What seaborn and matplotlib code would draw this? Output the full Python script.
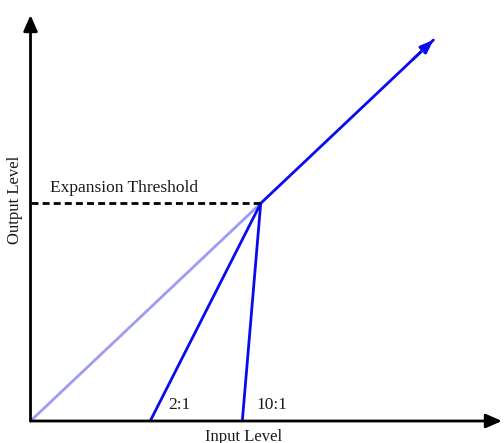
import matplotlib
matplotlib.use("Agg")
import matplotlib.pyplot as plt
import seaborn as sns

# ---- data (input / output level, arbitrary units, threshold = 100) ----
threshold_level = 100
unity_x = [0, 100]
unity_y = [0, 100]
above_x = [100, 175]
above_y = [100, 175]
ratio_labels = ["2:1", "10:1"]
ratio_start = [52, 92]   # input level where the expanded output reaches zero

sns.set_theme(style="white")
plt.rcParams['font.family'] = ['Liberation Serif', 'DejaVu Serif']

fig = plt.figure(figsize=(5.04, 4.43), dpi=100)
ax = fig.add_axes([30.5 / 504, 22 / 443, (502 - 30.5) / 504, (421 - 15) / 443])
ax.set_xlim(0, 204.8)
ax.set_ylim(0, 186.5)
for s in ax.spines.values():
    s.set_visible(False)
ax.set_xticks([])
ax.set_yticks([])
ax.patch.set_alpha(0)

blue = "#0a0aef"
light = "#9c9cf6"
txt = "#1a1a1a"

# 1:1 line below threshold
sns.lineplot(x=unity_x, y=unity_y, color=light, lw=2.0, ax=ax)
# 1:1 above threshold with arrow
sns.lineplot(x=above_x, y=above_y, color=blue, lw=2.0, ax=ax)
ax.annotate("", xy=(above_x[1], above_y[1]), xytext=(above_x[1] - 9, above_y[1] - 9),
            arrowprops=dict(arrowstyle="-|>,head_length=0.65,head_width=0.25",
                            color=blue, lw=2.0, shrinkA=0, shrinkB=0))

# expansion ratios
for lab, x0 in zip(ratio_labels, ratio_start):
    sns.lineplot(x=[x0, threshold_level], y=[0, threshold_level], color=blue, lw=2.0, ax=ax)
    ax.text(x0 + 12.8, 5.5, lab, ha="center", va="baseline", fontsize=12.5, color=txt)

# threshold dashed line
ax.plot([0, threshold_level], [threshold_level, threshold_level], color="black",
        lw=2.0, ls=(0, (2.5, 1.5)))
ax.text(8.5, 105, "Expansion Threshold", ha="left", va="baseline", fontsize=12.5, color=txt)

# axes with arrows
ax.annotate("", xy=(1, 0), xytext=(0, 0), xycoords="axes fraction",
            arrowprops=dict(arrowstyle="-|>,head_length=0.8,head_width=0.35",
                            color="black", lw=2.0, shrinkA=0, shrinkB=0))
ax.annotate("", xy=(0, 1), xytext=(0, 0), xycoords="axes fraction",
            arrowprops=dict(arrowstyle="-|>,head_length=0.8,head_width=0.35",
                            color="black", lw=2.0, shrinkA=0, shrinkB=0))

fig.text(244 / 504, 1 - 437 / 443, "Input Level", ha="center", va="center", fontsize=12, color=txt)
fig.text(15 / 504, 1 - 200 / 443, "Output Level", ha="center", va="center", rotation=90,
         fontsize=12, color=txt)

fig.savefig("out.png", dpi=100)
